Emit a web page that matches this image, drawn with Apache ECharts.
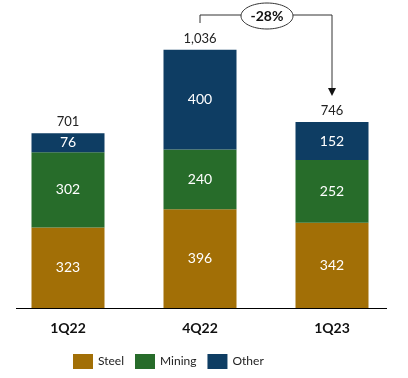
<!DOCTYPE html>
<html>
<head>
<meta charset="utf-8">
<script src="https://cdn.jsdelivr.net/npm/echarts@6/dist/echarts.min.js"></script>
<style>
  html, body { margin: 0; padding: 0; background: #fff; }
  #chart { width: 408px; height: 378px; }
</style>
</head>
<body>
<div id="chart"></div>
<script>
// 季度数据
var quarters = ['1Q22', '4Q22', '1Q23']
var steel = [323, 396, 342]
var mining = [302, 240, 252]
var other = [76, 400, 152]
var totals = ['701', '1,036', '746']
var changeText = '-28%'

var chartDom = document.getElementById('chart')
var myChart = echarts.init(chartDom)

var FONT = 'Lato, "Open Sans", sans-serif'

// 堆叠柱
function makeBar(name, data, color) {
  return {
    name: name,
    type: 'bar',
    stack: 'total',
    barWidth: 73,
    data: data,
    itemStyle: { color: color },
    label: {
      show: true,
      position: 'inside',
      color: '#fff',
      fontSize: 14,
      fontFamily: FONT
    }
  }
}

var option = {
  animation: false,
  color: ['#A26F06', '#276C2A', '#0E3D63'],
  grid: { left: 2, right: 10, top: 9, bottom: 70 },
  legend: {
    top: 349,
    left: 68,
    icon: 'rect',
    itemWidth: 20,
    itemHeight: 15,
    itemGap: 11,
    textStyle: { color: '#222', fontSize: 12, fontFamily: FONT },
    data: ['Steel', 'Mining', 'Other']
  },
  xAxis: {
    type: 'category',
    data: quarters,
    axisTick: { show: false },
    axisLine: { show: false },
    axisLabel: { color: '#111', fontWeight: 'bold', fontSize: 14, margin: 13, fontFamily: FONT }
  },
  yAxis: {
    type: 'value',
    min: 0,
    max: 1200,
    show: false,
    splitLine: { show: false }
  },
  series: [
    makeBar('Steel', steel, '#A26F06'),
    makeBar('Mining', mining, '#276C2A'),
    makeBar('Other', other, '#0E3D63'),
    {
      // 合计标签
      name: 'Total',
      type: 'bar',
      stack: 'total',
      barWidth: 73,
      data: [0, 0, 0],
      itemStyle: { color: 'transparent' },
      label: {
        show: true,
        position: 'top',
        distance: 5,
        color: '#222',
        fontSize: 13,
        fontFamily: FONT,
        formatter: function (p) { return totals[p.dataIndex] }
      }
    }
  ]
}
myChart.setOption(option)

// 变化箭头 + 底线
var x1 = myChart.convertToPixel({ xAxisIndex: 0 }, quarters[1])
var x2 = myChart.convertToPixel({ xAxisIndex: 0 }, quarters[2])
var y0 = myChart.convertToPixel({ yAxisIndex: 0 }, 0)
var lineY = 15
var ex = 267
myChart.setOption({
  graphic: [
    {
      type: 'line',
      shape: { x1: 16, y1: y0 + 0.5, x2: 387, y2: y0 + 0.5 },
      style: { stroke: '#000', lineWidth: 1 }
    },
    {
      type: 'polyline',
      shape: { points: [[x1, 23], [x1, lineY], [x2, lineY], [x2, 90]] },
      style: { stroke: '#333', lineWidth: 1, fill: null }
    },
    {
      type: 'polygon',
      shape: { points: [[x2 - 4, 88], [x2 + 4, 88], [x2, 96]] },
      style: { fill: '#111' }
    },
    {
      type: 'ellipse',
      shape: { cx: ex, cy: 16, rx: 26, ry: 13 },
      style: { fill: '#fff', stroke: '#333', lineWidth: 1 }
    },
    {
      type: 'text',
      x: ex,
      y: 16,
      style: {
        text: changeText,
        fill: '#111',
        font: 'bold 14px ' + FONT,
        align: 'center',
        verticalAlign: 'middle'
      }
    }
  ]
})
</script>
</body>
</html>
